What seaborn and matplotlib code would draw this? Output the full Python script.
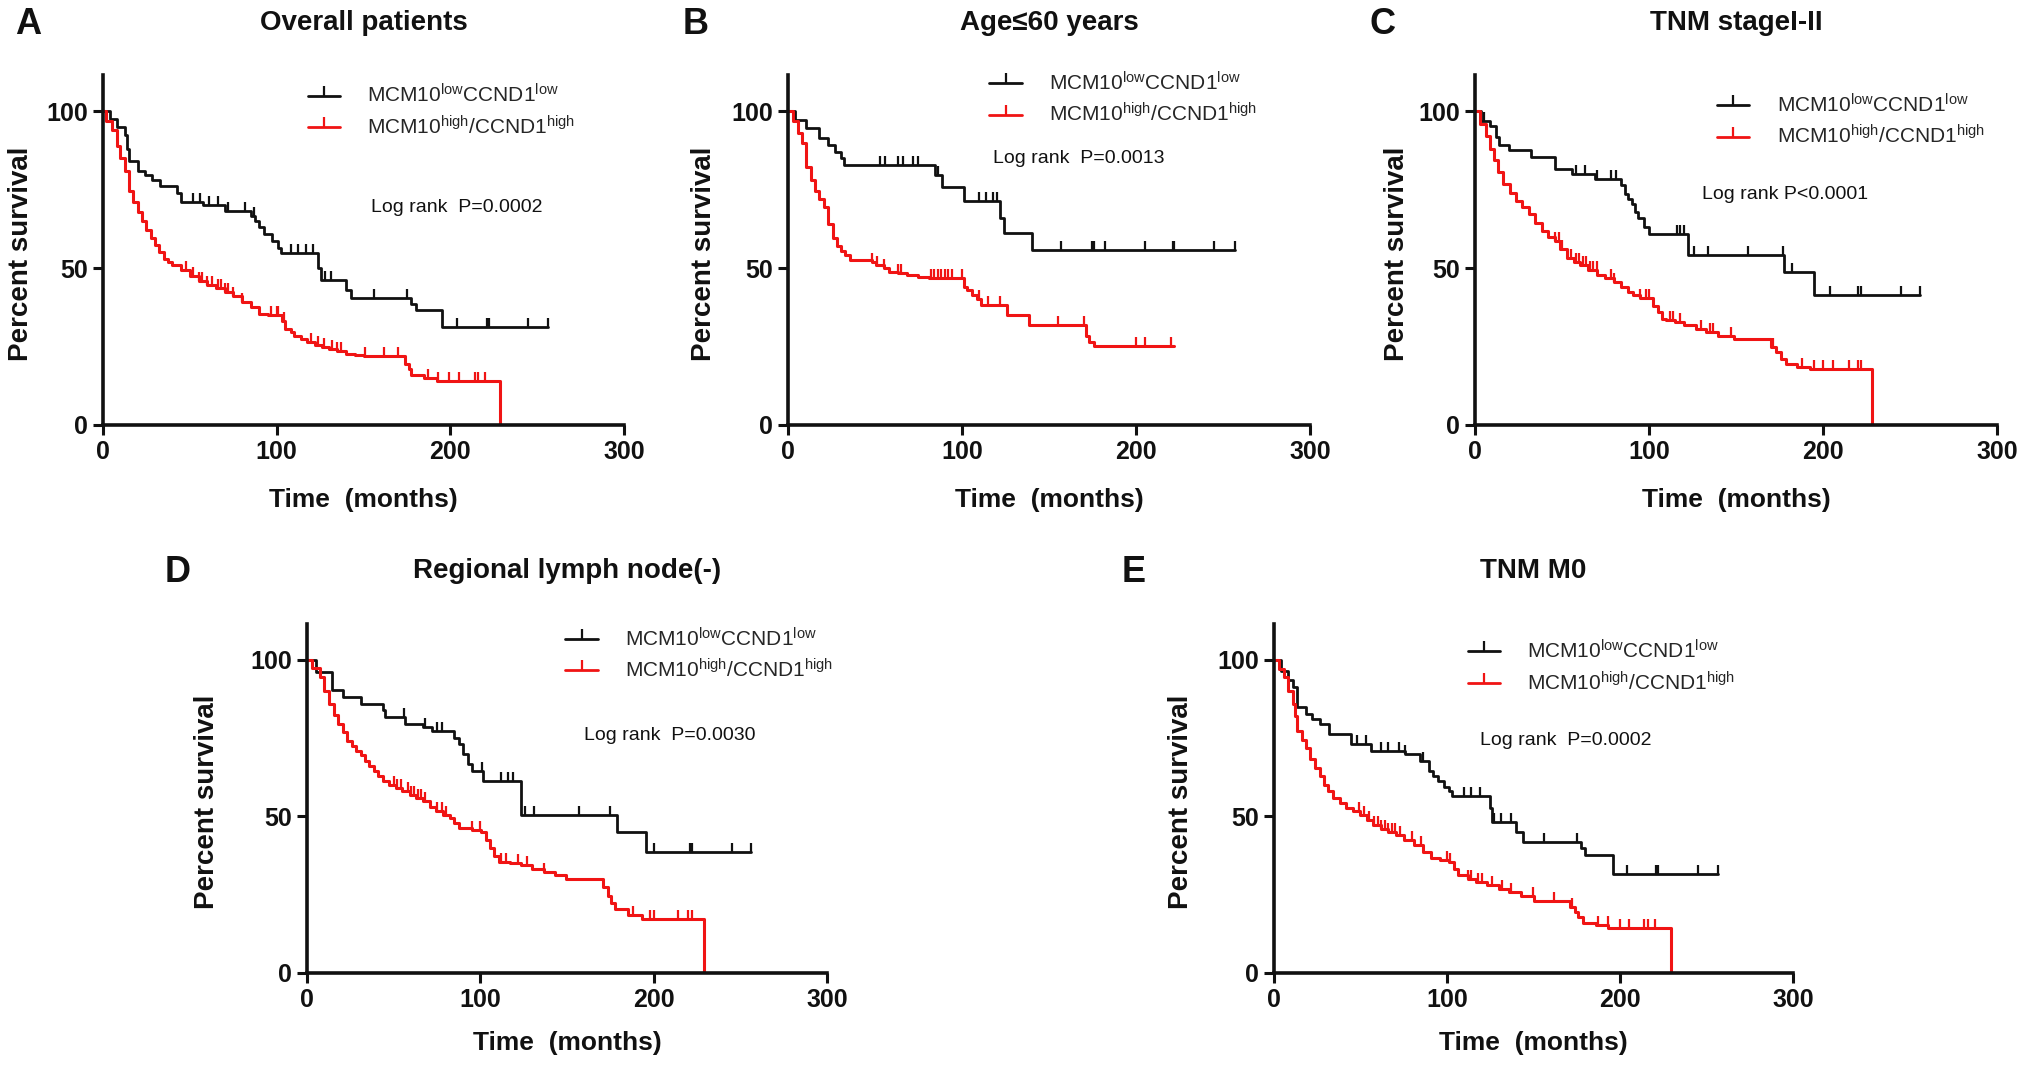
import numpy as np
import pandas as pd
import matplotlib
matplotlib.use("Agg")
import matplotlib.pyplot as plt
from matplotlib.lines import Line2D
import seaborn as sns

# ---------------- data ----------------
titles = ["Overall patients", "Age\u226460 years", "TNM stageI-II", "Regional lymph node(-)", "TNM M0"]
letters = ["A", "B", "C", "D", "E"]
pvals = ["Log rank  P=0.0002", "Log rank  P=0.0013", "Log rank P<0.0001", "Log rank  P=0.0030", "Log rank  P=0.0002"]
label_low = r"MCM10$^{\mathregular{low}}$CCND1$^{\mathregular{low}}$"
label_high = r"MCM10$^{\mathregular{high}}$/CCND1$^{\mathregular{high}}$"

# Panel A
a_low_t = [0, 4, 8, 12.5, 14, 15, 20, 24, 28, 33, 42.5, 45, 57.5, 70, 85, 87.5, 90, 92.5, 97.5, 101, 102.5, 124, 125.5, 140, 143, 177.5, 180, 195, 256]
a_low_s = [100, 97.5, 95, 92.5, 88, 84, 81, 79.5, 78, 76, 74, 71, 70, 68.3, 66.5, 65, 63, 60.8, 58.6, 56.5, 54.8, 50, 46.2, 43, 40.3, 38.7, 36.6, 31.2, 31.2]
a_high_t = [0, 2, 5, 8, 10, 12.5, 15, 17.5, 20, 22.5, 25, 27.5, 30, 32.5, 35, 37.5, 40, 45, 50, 55, 60, 65, 70, 75, 80, 85, 90, 95, 100, 103, 105, 108, 110, 114, 117.5, 122, 126, 130, 135, 140, 145, 150, 171, 173.75, 176, 177.5, 185, 192.5, 228.75]
a_high_s = [100, 97, 94, 89, 85, 81, 74.7, 71, 68, 65, 62, 59.5, 57.5, 55, 53, 52, 51, 49.5, 47.5, 46, 44.6, 43.5, 42.5, 41, 39.2, 37.5, 35.5, 35, 35, 33, 30.6, 29.5, 28.5, 27.5, 26.3, 25.5, 24.7, 24.2, 23.5, 22.6, 22.3, 22, 22, 19.5, 17.7, 16, 15, 14, 0]
a_low_cens = [52, 56, 61, 66, 72, 82, 87, 108, 112, 117, 121, 128, 131, 156, 175, 204, 221, 222, 245, 256]
a_high_cens = [48, 52, 55, 57, 60, 63, 66, 68, 70, 72, 75, 80, 97, 100, 101, 104, 120, 124, 127, 132, 135, 137, 151, 162, 170, 187, 193, 199, 205, 214, 216, 220]

# Panel B
b_low_t = [0, 4.3, 10.5, 18, 23, 27, 30.6, 32, 84.7, 88.4, 101, 122, 124, 140, 257]
b_low_s = [100, 97.3, 94.6, 91.4, 89.2, 87, 85, 82.8, 79.6, 75.8, 71.5, 66, 61.3, 55.9, 55.9]
b_high_t = [0, 3, 6, 8, 10.5, 13, 15.6, 18, 20.6, 23, 25.6, 28, 30.6, 33, 35.7, 48, 50.8, 55, 58.3, 63, 68.3, 75, 81, 101, 103, 106, 108.5, 111, 126, 138.7, 171, 173, 176, 221.6]
b_high_s = [100, 97, 93, 89.8, 82.3, 78, 74.7, 72, 69.4, 64, 59.7, 57, 55.4, 54, 52.7, 52, 51, 50, 48.9, 48.3, 47.8, 47.3, 46.8, 44, 43, 41.4, 40, 38.2, 35, 31.7, 28.5, 26.5, 25.3, 25.3]
b_low_cens = [53, 56, 63, 66, 72, 75, 86, 110, 114, 118, 120, 157, 175, 176, 182, 205, 221, 222, 245, 257]
b_high_cens = [48, 51, 55, 63, 65, 82, 84, 86, 88, 90, 92, 94, 100, 110, 115, 122, 155, 170, 200, 205, 220]

# Panel C
c_low_t = [0, 3.7, 8.6, 12.3, 13.6, 19.8, 32, 45.7, 55.6, 69, 84, 86.4, 88, 90, 92, 93.8, 97, 100, 122.2, 177.8, 195, 255.6]
c_low_s = [100, 96.8, 95.2, 91.9, 89.2, 87.6, 85.5, 81.7, 80.1, 78.5, 76.5, 73.7, 72, 70.4, 68, 66, 63, 60.8, 54.3, 48.9, 41.4, 41.4]
c_high_t = [0, 3, 6.2, 8.5, 11.1, 13.5, 16, 20, 23.5, 27, 30.9, 34.5, 38.3, 42, 45.7, 49, 53, 57, 60.5, 65, 70.4, 75, 80, 84, 87.7, 91, 95, 102.5, 105, 107.4, 110, 114.8, 120, 127, 133, 139.5, 149, 170.4, 172.8, 176, 179, 185, 192.6, 228.4]
c_high_s = [100, 96, 92, 88, 84.4, 80.5, 76.9, 74, 71.5, 69.5, 67.2, 64.5, 61.8, 60, 58.6, 56, 53.2, 52, 51, 49.5, 47.8, 46.8, 45.7, 44, 42.5, 41.5, 40.3, 38, 36, 33.9, 33.3, 32.8, 31.8, 30.6, 29.5, 28.5, 27.4, 25, 23.1, 21, 19.4, 18.5, 17.7, 0]
c_low_cens = [5, 58, 63, 70, 78, 81, 116, 118, 120, 126, 134, 157, 177, 182, 204, 220, 222, 245, 255.6]
c_high_cens = [46, 48, 50, 55, 58, 60, 62, 64, 66, 68, 70, 78, 80, 95, 98, 100, 112, 114, 118, 130, 135, 137, 147, 171, 188, 195, 200, 206, 215, 220, 222]

# Panel D
d_low_t = [0, 5.2, 14.2, 20.6, 30.9, 43.8, 45, 56.7, 67, 72, 85, 87.5, 90, 92.7, 95.3, 101.7, 123.6, 179, 195.7, 256]
d_low_s = [100, 96.2, 90.3, 88.2, 86, 83.9, 81.7, 79.6, 78.5, 77.4, 75, 73.1, 69.9, 66.7, 64.5, 61.3, 50.5, 45.2, 38.7, 38.7]
d_high_t = [0, 3, 7.7, 10, 12.9, 15.5, 18, 20.5, 23.2, 25.8, 28.3, 31, 33.5, 36, 38.6, 41, 43.8, 47.5, 51.5, 55, 59.2, 63, 67, 71, 74.7, 78.5, 82.4, 85, 87.6, 95, 100.4, 103, 105.6, 108, 110.7, 117, 123.6, 130, 136.5, 143, 149.4, 171, 173.8, 175.5, 177.7, 185, 193, 229.2]
d_high_s = [100, 97.5, 94.6, 90, 86, 82.5, 79.6, 77, 74.2, 72.5, 71, 69.5, 67.7, 66, 64.5, 63, 61.3, 60, 59.1, 58, 57, 56, 54.8, 53, 51.6, 50.5, 49.5, 48, 46.2, 45.7, 45.2, 42.5, 39.8, 37.5, 35.5, 35, 34.4, 33.3, 32.3, 31.2, 30.1, 27.5, 24.7, 22.5, 20.4, 18.5, 17.2, 0]
d_low_cens = [56, 68, 75, 78, 101, 112, 116, 119, 126, 131, 157, 175, 200, 221, 222, 245, 256]
d_high_cens = [50, 52, 54, 58, 60, 62, 64, 66, 68, 75, 78, 80, 95, 100, 112, 115, 122, 127, 137, 188, 198, 200, 214, 220, 222]

# Panel E
e_low_t = [0, 4, 8.3, 10.9, 13.4, 18.6, 22, 26.4, 31.6, 44.5, 56.1, 75.5, 84.2, 89.7, 92, 94.9, 98, 101.4, 103, 124.6, 126, 140, 144, 177.7, 179.5, 195.8, 256.5]
e_low_s = [100, 96.5, 93.5, 91.4, 84.9, 82.8, 81, 79.6, 76.3, 73.1, 71, 69.9, 67.7, 64.5, 63, 61.3, 59.5, 58.1, 56.5, 52.7, 48.4, 45.2, 41.9, 39.8, 37.6, 31.7, 31.7]
e_high_t = [0, 3, 5.7, 8, 10.9, 12, 13.4, 16, 18.6, 21, 23.8, 26.5, 29, 31.5, 34.1, 38, 41.9, 45.8, 49.7, 53.5, 57.4, 62, 66, 70.3, 75, 80.7, 86, 91, 96, 101.4, 104, 106.5, 112, 116.9, 123, 129.8, 136, 142.7, 150.5, 171.2, 173.8, 176, 178.9, 186, 193.2, 229.4]
e_high_s = [100, 97, 94.6, 90, 86, 82, 77.4, 74.5, 72, 68.5, 65.6, 63, 60.2, 58, 55.9, 54.3, 52.7, 51.6, 50.5, 48.9, 47.3, 46, 45, 44.1, 42.5, 40.9, 38.8, 36.6, 36, 35.5, 33.3, 31.2, 30, 29, 28, 26.9, 25.8, 24.7, 23.1, 21, 19.4, 17.8, 16.1, 15.2, 14.5, 0]
e_low_cens = [48, 53, 62, 66, 72, 76, 86, 110, 114, 119, 127, 131, 137, 156, 175, 204, 221, 222, 245, 256.5]
e_high_cens = [49, 52, 55, 58, 60, 62, 64, 66, 68, 70, 73, 80, 85, 100, 102, 112, 114, 118, 120, 126, 132, 137, 150, 162, 172, 187, 193, 200, 205, 214, 216, 220]

xticks = [0, 100, 200, 300]
yticks = [0, 50, 100]

panels = [
    (a_low_t, a_low_s, a_low_cens, a_high_t, a_high_s, a_high_cens),
    (b_low_t, b_low_s, b_low_cens, b_high_t, b_high_s, b_high_cens),
    (c_low_t, c_low_s, c_low_cens, c_high_t, c_high_s, c_high_cens),
    (d_low_t, d_low_s, d_low_cens, d_high_t, d_high_s, d_high_cens),
    (e_low_t, e_low_s, e_low_cens, e_high_t, e_high_s, e_high_cens),
]

# ---------------- layout (pixels of the 2031x1070 canvas) ----------------
W, H = 2031, 1070
boxes = [
    (103, 624, 75, 425),
    (788, 1310, 75, 425),
    (1475, 1997, 75, 425),
    (307, 827, 624, 973),
    (1274, 1793, 624, 973),
]
ylabel_off = [82, 84, 78, 100, 93]
xlabel_off = [75, 75, 75, 70, 70]
legend_pos = [(0.393, 0.897), (0.386, 0.933), (0.464, 0.870), (0.497, 0.913), (0.374, 0.877)]
logrank_pos = [(0.515, 0.62), (0.393, 0.762), (0.434, 0.658), (0.533, 0.680), (0.397, 0.665)]
letter_pos = [(28, 24), (696, 24), (1383, 24), (178, 572), (1134, 572)]

BLACK = "#111111"
RED = "#f01414"
FONT = ["Liberation Sans", "DejaVu Sans"]

sns.set_theme(style="ticks")
plt.rcParams["font.family"] = FONT
plt.rcParams["mathtext.fontset"] = "custom"
plt.rcParams["mathtext.rm"] = "Liberation Sans"
plt.rcParams["mathtext.it"] = "Liberation Sans:italic"
plt.rcParams["mathtext.bf"] = "Liberation Sans:bold"

fig = plt.figure(figsize=(W / 100, H / 100), dpi=100)
fig.patch.set_facecolor("white")


def censor_y(t, s, c):
    t = np.asarray(t, float)
    s = np.asarray(s, float)
    idx = np.searchsorted(t, np.asarray(c, float), side="right") - 1
    idx = np.clip(idx, 0, len(s) - 1)
    return s[idx]


for i, (lt, ls, lc, ht, hs, hc) in enumerate(panels):
    l, r, t, b = boxes[i]
    ax = fig.add_axes([l / W, 1 - b / H, (r - l) / W, (b - t) / H])
    ax.set_facecolor("white")

    low_df = pd.DataFrame({"time": lt, "surv": ls})
    high_df = pd.DataFrame({"time": ht, "surv": hs})
    sns.lineplot(data=low_df, x="time", y="surv", drawstyle="steps-post", color=BLACK,
                 lw=2.0, estimator=None, sort=False, ax=ax)
    sns.lineplot(data=high_df, x="time", y="surv", drawstyle="steps-post", color=RED,
                 lw=2.2, estimator=None, sort=False, ax=ax)
    lcdf = pd.DataFrame({"time": lc, "surv": censor_y(lt, ls, lc)})
    hcdf = pd.DataFrame({"time": hc, "surv": censor_y(ht, hs, hc)})
    sns.scatterplot(data=lcdf, x="time", y="surv", marker=2, s=40, linewidth=1.6,
                    color=BLACK, ax=ax, zorder=3)
    sns.scatterplot(data=hcdf, x="time", y="surv", marker=2, s=40, linewidth=1.6,
                    color=RED, ax=ax, zorder=3)

    ax.set_xlim(0, 300)
    ax.set_ylim(0, 111.5)
    ax.set_xticks(xticks)
    ax.set_yticks(yticks)
    sns.despine(ax=ax)
    for sp in ["left", "bottom"]:
        ax.spines[sp].set_linewidth(2.6)
        ax.spines[sp].set_color("#111111")
    ax.tick_params(axis="both", direction="out", length=7, width=2.2, color="#111111",
                   labelsize=18, pad=4, labelcolor="#111111")
    for lab in ax.get_xticklabels() + ax.get_yticklabels():
        lab.set_fontweight("bold")

    ax.set_xlabel("Time  (months)", fontsize=19, fontweight="bold", color="#111111")
    ax.set_ylabel("Percent survival", fontsize=20, fontweight="bold", color="#111111")
    ax.xaxis.set_label_coords(0.5, -xlabel_off[i] / (b - t))
    ax.yaxis.set_label_coords(-ylabel_off[i] / (r - l), 0.49)
    ax.xaxis.label.set_verticalalignment("center")
    ax.yaxis.label.set_verticalalignment("center")

    ax.text(0.5, 1 + (t - (23 if i < 3 else 571)) / (b - t), titles[i], transform=ax.transAxes,
            ha="center", va="center", fontsize=20, fontweight="bold", color="#111111")

    handles = [
        Line2D([0], [0], color=BLACK, lw=2.0, marker=2, markersize=7, mew=1.6),
        Line2D([0], [0], color=RED, lw=2.0, marker=2, markersize=7, mew=1.6),
    ]
    ax.legend(handles, [label_low, label_high], loc="center left",
              bbox_to_anchor=legend_pos[i], frameon=False, borderpad=0, borderaxespad=0,
              handlelength=1.55, handletextpad=1.3, labelspacing=0.4, fontsize=15, numpoints=1)

    ax.text(logrank_pos[i][0], logrank_pos[i][1], pvals[i], transform=ax.transAxes,
            ha="left", va="center", fontsize=14, color="#111111")

    fig.text(letter_pos[i][0] / W, 1 - letter_pos[i][1] / H, letters[i], ha="center", va="center",
             fontsize=26, fontweight="bold", color="#111111")

fig.savefig("out.png", dpi=100, facecolor="white")
